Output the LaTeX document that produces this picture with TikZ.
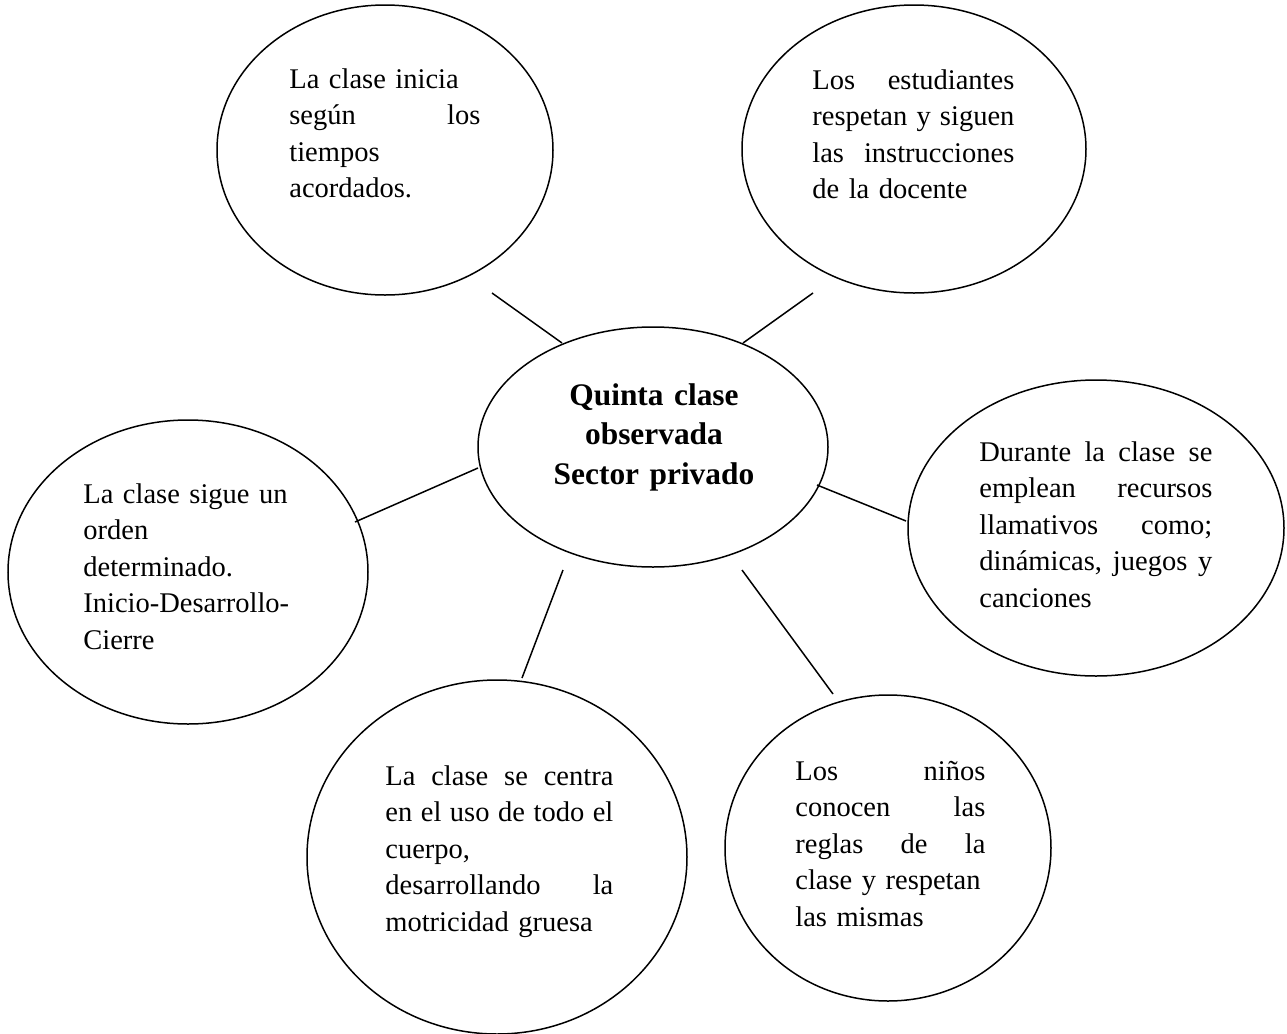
\documentclass[tikz,border=0pt]{standalone}
\usepackage{fontspec}
\setmainfont{Liberation Serif}
\usetikzlibrary{shapes.geometric}
% justified line: words separated by \hfil, stretched to the given width
\newcommand{\jline}[2]{\leavevmode\hbox to #1{#2}}
\begin{document}
\begin{tikzpicture}[x=0.5pt,y=-0.5pt,
  bubble/.style={draw, ellipse, line width=0.75pt, inner sep=0pt},
  txt/.style={anchor=base west, inner sep=0pt, align=left, font=\fontsize{14.25}{18.25}\selectfont},
  link/.style={line width=0.75pt}]
\useasboundingbox (0,0) rectangle (1287,1034);

% ellipses (minimum width/height in pt = radius in px)
\node[bubble, minimum width=168pt, minimum height=145pt] (e1) at (385,150) {};
\node[bubble, minimum width=172pt, minimum height=144pt] (e2) at (914,149) {};
\node[bubble, minimum width=175pt, minimum height=120pt] (ec) at (653,447) {};
\node[bubble, minimum width=180pt, minimum height=152pt] (e4) at (188,572) {};
\node[bubble, minimum width=188pt, minimum height=148pt] (e5) at (1096,528) {};
\node[bubble, minimum width=190pt, minimum height=177pt] (e6) at (497,857) {};
\node[bubble, minimum width=163pt, minimum height=153pt] (e7) at (888,848) {};

% texts
\node[txt, text width=96pt] (t1) at (289,88) {La clase inicia\\ \jline{95.5pt}{según\hfil los}\\ tiempos\\ acordados.};
\node[txt, text width=102pt] (t2) at (812,89) {\jline{101pt}{Los\hfil estudiantes}\\ \jline{101pt}{respetan\hfil y\hfil siguen}\\ \jline{101pt}{las\hfil instrucciones}\\ de la docente};
\node[anchor=base, inner sep=0pt, text width=120pt, align=center, font=\fontsize{15.7}{19.75}\selectfont\bfseries] (tc) at (654,405) {Quinta clase\\ observada\\ Sector privado};
\node[txt, text width=105pt] (t4) at (83,503) {La clase sigue un\\ orden\\ determinado.\\ Inicio-Desarrollo-\\ Cierre};
\node[txt, text width=117pt] (t5) at (979,461) {\jline{116.5pt}{Durante\hfil la\hfil clase\hfil se}\\ \jline{116.5pt}{emplean\hfil recursos}\\ \jline{116.5pt}{llamativos\hfil como;}\\ \jline{116.5pt}{dinámicas,\hfil juegos\hfil y}\\ canciones};
\node[txt, text width=115pt] (t6) at (385,785) {\jline{114pt}{La\hfil clase\hfil se\hfil centra}\\ \jline{114pt}{en\hfil el\hfil uso\hfil de\hfil todo\hfil el}\\ cuerpo,\\ \jline{114pt}{desarrollando\hfil la}\\ motricidad gruesa};
\node[txt, text width=96pt] (t7) at (795,780) {\jline{95pt}{Los\hfil niños}\\ \jline{95pt}{conocen\hfil las}\\ \jline{95pt}{reglas\hfil de\hfil la}\\ clase y respetan\\ las mismas};

% connector end points
\coordinate (a1) at (492,293); \coordinate (b1) at (562,343);
\coordinate (a2) at (813,293); \coordinate (b2) at (743,343);
\coordinate (a3) at (478,468); \coordinate (b3) at (355,522);
\coordinate (a4) at (817,485); \coordinate (b4) at (906,521);
\coordinate (a5) at (563,570); \coordinate (b5) at (522,678);
\coordinate (a6) at (742,570); \coordinate (b6) at (833,694);

\draw[link] (a1) -- (b1);
\draw[link] (a2) -- (b2);
\draw[link] (a3) -- (b3);
\draw[link] (a4) -- (b4);
\draw[link] (a5) -- (b5);
\draw[link] (a6) -- (b6);
\end{tikzpicture}
\end{document}
